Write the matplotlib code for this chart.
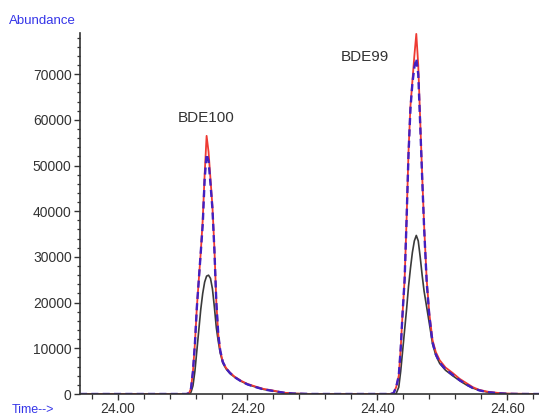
import matplotlib
matplotlib.use("Agg")
import matplotlib.pyplot as plt
from matplotlib.ticker import MultipleLocator, FixedLocator

plt.rcParams['font.family'] = ['Liberation Sans', 'DejaVu Sans']

# retention time (min), shared by the three traces
time = [23.942, 24.000, 24.050, 24.100,
        24.106, 24.110, 24.113, 24.116, 24.119, 24.122,
        24.125, 24.128, 24.131, 24.134, 24.137, 24.140,
        24.143, 24.146, 24.149, 24.152, 24.155, 24.158,
        24.162, 24.167, 24.173, 24.180, 24.190, 24.200,
        24.213, 24.225, 24.238, 24.255, 24.270, 24.300,
        24.350, 24.400, 24.420, 24.425, 24.429, 24.433,
        24.436, 24.439, 24.442, 24.445, 24.448, 24.451,
        24.454, 24.457, 24.460, 24.463, 24.466, 24.469,
        24.472, 24.476, 24.480, 24.485, 24.490, 24.496,
        24.505, 24.516, 24.527, 24.537, 24.547, 24.557,
        24.570, 24.588, 24.600, 24.620, 24.649]

red = [0, 0, 0, 0,
       0, 200, 1200, 5000, 11000, 19000,
       25000, 31000, 38000, 48000, 56500, 53000,
       47000, 41000, 32000, 20000, 13000, 9500,
       7000, 5700, 4700, 3800, 2900, 2200,
       1600, 1100, 800, 300, 100, 0,
       0, 0, 0, 200, 1500, 4000,
       10000, 18000, 25000, 38000, 53000, 63000,
       68500, 74000, 78800, 72000, 60000, 48000,
       37000, 25000, 17700, 11800, 9200, 7400,
       5800, 4600, 3300, 2400, 1500, 900,
       500, 200, 100, 50, 0]

blue = [0, 0, 0, 0,
        0, 200, 1200, 5000, 11000, 19000,
        25000, 31000, 37000, 47000, 52500, 51000,
        46000, 40500, 31500, 20000, 13000, 9500,
        7000, 5600, 4600, 3700, 2800, 2100,
        1500, 1000, 700, 300, 100, 0,
        0, 0, 0, 200, 1500, 4000,
        10000, 18000, 25000, 38000, 52500, 62500,
        68000, 71500, 73400, 70000, 59000, 47500,
        36500, 24500, 17200, 11300, 8700, 6900,
        5400, 4200, 3000, 2100, 1300, 800,
        400, 150, 50, 0, 0]

black = [0, 0, 0, 0,
         0, 0, 400, 1800, 5000, 9500,
         14000, 18500, 22000, 24500, 25800, 26000,
         25300, 23000, 19000, 14500, 11500, 9000,
         6800, 5500, 4500, 3700, 2800, 2100,
         1500, 1000, 700, 300, 100, 0,
         0, 0, 0, 0, 100, 1500,
         5000, 9500, 14000, 18500, 23500, 27500,
         31000, 33500, 34700, 33500, 30000, 26000,
         22500, 19000, 15500, 11000, 8500, 6700,
         5200, 4000, 2900, 2000, 1300, 800,
         400, 150, 50, 0, 0]

peak_names = ['BDE100', 'BDE99']
peak_label_t = [24.136, 24.381]
peak_label_y = [60500, 73800]

x_major = [24.00, 24.20, 24.40, 24.60]

fig = plt.figure(figsize=(5.39, 4.19), dpi=100)
ax = fig.add_axes([80 / 539, 25 / 419, 459 / 539, 361 / 419])

ax.plot(time, black, color='#3a3a3a', lw=1.2)
ax.plot(time, red, color='#ee3a33', lw=1.3)
ax.plot(time, blue, color='#4320c0', lw=1.7, dashes=(3.0, 1.8))

for name, t, y in zip(peak_names, peak_label_t, peak_label_y):
    ax.text(t, y, name, ha='center', va='center', fontsize=11, color='#333333')

ax.set_xlim(23.942, 24.649)
ax.set_ylim(0, 79000)

ax.xaxis.set_major_locator(FixedLocator(x_major))
ax.xaxis.set_minor_locator(MultipleLocator(0.04))
ax.set_xticklabels(['%.2f' % v for v in x_major])
ax.yaxis.set_major_locator(MultipleLocator(10000))
ax.yaxis.set_minor_locator(MultipleLocator(2000))

for s in ['top', 'right']:
    ax.spines[s].set_visible(False)
for s in ['left', 'bottom']:
    ax.spines[s].set_color('#333333')
    ax.spines[s].set_linewidth(1.2)

ax.tick_params(axis='both', which='major', direction='out', length=4, width=1,
               color='#333333', labelcolor='#333333', labelsize=10, pad=2)
ax.tick_params(axis='both', which='minor', direction='out', length=2.5, width=0.9,
               color='#333333')
ax.tick_params(axis='x', which='minor', length=3.5)

fig.text(9 / 539, 1 - 21 / 419, 'Abundance', color='#3535e8', fontsize=9.5,
         ha='left', va='center')
fig.text(12 / 539, 1 - 410 / 419, 'Time-->', color='#3535e8', fontsize=9,
         ha='left', va='center')

fig.savefig('out.png', dpi=100, facecolor='white')
